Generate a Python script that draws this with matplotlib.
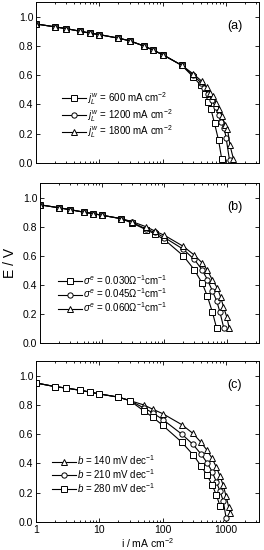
import matplotlib
matplotlib.use("Agg")
import matplotlib.pyplot as plt
from matplotlib.ticker import LogLocator, NullFormatter, FixedLocator

plt.rcParams['font.family'] = ['Liberation Sans', 'DejaVu Sans']
plt.rcParams['mathtext.fontset'] = 'custom'
plt.rcParams['mathtext.rm'] = 'Liberation Sans'
plt.rcParams['mathtext.it'] = 'Liberation Sans:italic'
plt.rcParams['mathtext.bf'] = 'Liberation Sans:bold'

# common low-current part
i_common = [1, 2, 3, 5, 7, 10, 20, 30, 50, 70, 100, 200]
e_common_a = [0.95, 0.93, 0.918, 0.90, 0.888, 0.877, 0.853, 0.835, 0.80, 0.772, 0.74, 0.667]

# Panel (a): limiting current
a_sq_i = i_common + [300, 400, 470, 520, 575, 656, 760, 850]
a_sq_e = e_common_a + [0.59, 0.53, 0.47, 0.42, 0.37, 0.27, 0.155, 0.03]
a_ci_i = i_common + [300, 400, 450, 520, 600, 680, 760, 840, 930, 1000, 1130]
a_ci_e = e_common_a + [0.60, 0.55, 0.51, 0.47, 0.43, 0.38, 0.33, 0.28, 0.24, 0.17, 0.02]
a_tr_i = i_common + [300, 410, 490, 560, 620, 700, 780, 860, 960, 1050, 1150, 1300]
a_tr_e = e_common_a + [0.61, 0.56, 0.52, 0.48, 0.455, 0.41, 0.37, 0.32, 0.26, 0.235, 0.12, 0.03]
a_labels = [r'$j_L^{\,w}$ = 600 mA cm$^{-2}$',
            r'$j_L^{\,w}$ = 1200 mA cm$^{-2}$',
            r'$j_L^{\,w}$ = 1800 mA cm$^{-2}$']

# Panel (b): electrolyte conductivity
b_i_low = [1, 2, 3, 5, 7, 10, 20, 30, 50, 70, 100, 200, 300]
b_sq_i = b_i_low + [405, 490, 590, 690]
b_sq_e = [0.95, 0.93, 0.917, 0.90, 0.89, 0.878, 0.855, 0.825, 0.78, 0.75, 0.71, 0.60, 0.505] + [0.41, 0.32, 0.21, 0.10]
b_ci_i = b_i_low + [400, 490, 585, 690, 780, 900]
b_ci_e = [0.95, 0.93, 0.917, 0.90, 0.89, 0.878, 0.855, 0.83, 0.785, 0.76, 0.725, 0.645, 0.575] + [0.505, 0.435, 0.36, 0.29, 0.21, 0.10]
b_tr_i = b_i_low + [405, 490, 585, 705, 800, 885, 1000, 1100]
b_tr_e = [0.95, 0.93, 0.917, 0.90, 0.89, 0.878, 0.855, 0.835, 0.80, 0.77, 0.74, 0.665, 0.605] + [0.55, 0.50, 0.435, 0.38, 0.315, 0.25, 0.18, 0.10]
b_labels = [r'$\sigma^e$ = 0.030$\Omega^{-1}$cm$^{-1}$',
            r'$\sigma^e$ = 0.045$\Omega^{-1}$cm$^{-1}$',
            r'$\sigma^e$ = 0.060$\Omega^{-1}$cm$^{-1}$']

# Panel (c): Tafel slope
c_i_low = [1, 2, 3, 5, 7, 10, 20, 30]
c_e_low = [0.95, 0.925, 0.915, 0.90, 0.888, 0.875, 0.853, 0.83]
c_tr_i = c_i_low + [50, 70, 100, 200, 300, 400, 500, 600, 700, 800, 900, 1000, 1100, 1150]
c_tr_e = c_e_low + [0.80, 0.77, 0.74, 0.665, 0.605, 0.545, 0.49, 0.435, 0.375, 0.315, 0.25, 0.175, 0.10, 0.06]
c_ci_i = c_i_low + [50, 70, 100, 200, 300, 400, 500, 600, 700, 800, 900, 1000]
c_ci_e = c_e_low + [0.78, 0.745, 0.70, 0.60, 0.53, 0.465, 0.405, 0.345, 0.275, 0.21, 0.145, 0.025]
c_sq_i = c_i_low + [50, 70, 100, 200, 300, 400, 500, 600, 700, 800]
c_sq_e = c_e_low + [0.76, 0.715, 0.66, 0.545, 0.46, 0.385, 0.32, 0.255, 0.185, 0.11]
c_labels = [r'$b$ = 140 mV dec$^{-1}$',
            r'$b$ = 210 mV dec$^{-1}$',
            r'$b$ = 280 mV dec$^{-1}$']

x_ticks = [1, 10, 100, 1000]
x_ticklabels = ['1', '10', '100', '1000']
y_ticks = [0.0, 0.2, 0.4, 0.6, 0.8, 1.0]

fig = plt.figure(figsize=(2.64, 5.5), dpi=100)
ax_a = fig.add_axes([36/264, 1-163/550, 223/264, 161/550])
ax_b = fig.add_axes([40/264, 1-343/550, 219/264, 160/550])
ax_c = fig.add_axes([36/264, 1-522/550, 223/264, 161/550])

mk = dict(color='black', lw=0.8, markersize=3.8, markerfacecolor='white',
          markeredgecolor='black', markeredgewidth=0.7)

def style(ax, lab, show_x):
    ax.set_xscale('log')
    ax.set_xlim(1, 3300)
    ax.set_ylim(0, 1.1)
    ax.xaxis.set_major_locator(FixedLocator(x_ticks))
    ax.xaxis.set_minor_locator(LogLocator(base=10, subs=range(2, 10)))
    ax.xaxis.set_minor_formatter(NullFormatter())
    if show_x:
        ax.set_xticklabels(x_ticklabels)
    else:
        ax.set_xticklabels([])
    ax.set_yticks(y_ticks)
    ax.set_yticklabels(['%.1f' % v for v in y_ticks])
    ax.tick_params(which='both', direction='in', top=True, right=True,
                   labelsize=7.5, width=0.6, pad=2)
    ax.tick_params(which='major', length=3)
    ax.tick_params(which='minor', length=1.5)
    for s in ax.spines.values():
        s.set_linewidth(0.7)
    ax.text(0.89, 0.85, lab, transform=ax.transAxes, fontsize=9,
            ha='center', va='center')

leg_kw = dict(loc='lower left', frameon=False, fontsize=7, handlelength=2.5,
              handletextpad=0.15, labelspacing=0.0, borderpad=0, borderaxespad=0)

# (a)
ax_a.plot(a_sq_i, a_sq_e, marker='s', label=a_labels[0], **mk)
ax_a.plot(a_ci_i, a_ci_e, marker='o', label=a_labels[1], **mk)
ax_a.plot(a_tr_i, a_tr_e, marker='^', label=a_labels[2], **mk)
style(ax_a, '(a)', False)
ax_a.legend(bbox_to_anchor=(0.115, 0.14), **leg_kw)

# (b)
ax_b.plot(b_sq_i, b_sq_e, marker='s', label=b_labels[0], **mk)
ax_b.plot(b_ci_i, b_ci_e, marker='o', label=b_labels[1], **mk)
ax_b.plot(b_tr_i, b_tr_e, marker='^', label=b_labels[2], **mk)
style(ax_b, '(b)', False)
ax_b.set_ylabel('E / V', fontsize=10, labelpad=4)
ax_b.legend(bbox_to_anchor=(0.08, 0.18), **leg_kw)

# (c)
ax_c.plot(c_tr_i, c_tr_e, marker='^', label=c_labels[0], **mk)
ax_c.plot(c_ci_i, c_ci_e, marker='o', label=c_labels[1], **mk)
ax_c.plot(c_sq_i, c_sq_e, marker='s', label=c_labels[2], **mk)
style(ax_c, '(c)', True)
ax_c.set_xlabel(r'i / mA cm$^{-2}$', fontsize=7.5, labelpad=1)
ax_c.legend(bbox_to_anchor=(0.07, 0.17), **leg_kw)

fig.savefig('out.png', dpi=100)
